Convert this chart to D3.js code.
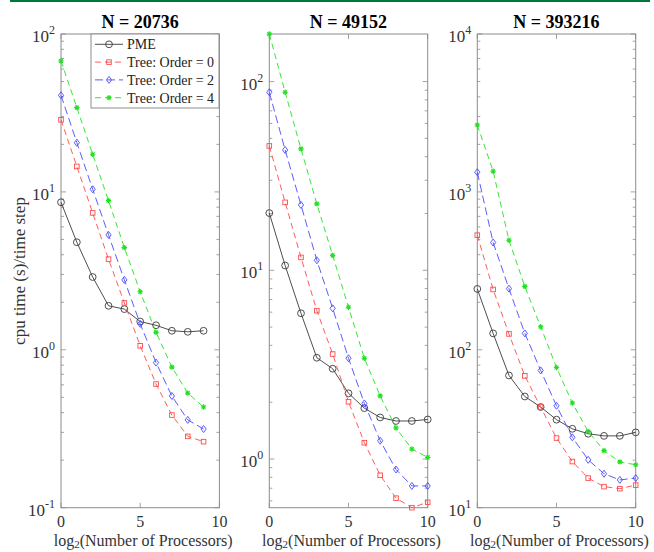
<!DOCTYPE html>
<html><head><meta charset="utf-8">
<script src="https://cdn.jsdelivr.net/npm/d3@7"></script>
<style>body{margin:0;background:#fff}svg{display:block}text{font-family:"Liberation Serif","Times New Roman",serif}</style>
</head><body><svg id="c" width="654" height="552"></svg>
<script>
const titles = ["N = 20736", "N = 49152", "N = 393216"];
const seriesNames = ["PME", "Tree: Order = 0", "Tree: Order = 2", "Tree: Order = 4"];
const procsA = [0,1,2,3,4,5,6,7,8,9];
const procsB = [0,1,2,3,4,5,6,7,8,9,10];
const xTicks = [0,5,10];

const pme1   = [8.6,4.8,2.89,1.90,1.81,1.51,1.43,1.32,1.30,1.32];
const tree0_1 = [28.6,14.5,7.36,3.75,1.98,1.06,0.607,0.386,0.283,0.262];
const tree2_1 = [40.9,20.5,10.4,5.34,2.77,1.46,0.83,0.51,0.36,0.315];
const tree4_1 = [67.5,34.2,17.3,8.8,4.44,2.33,1.29,0.777,0.532,0.434];

const pme2   = [20.1,10.6,5.92,3.44,3.01,2.23,1.86,1.66,1.59,1.59,1.62];
const tree0_2 = [45.6,22.9,11.7,6.11,3.6,2.01,1.22,0.82,0.62,0.552,0.59];
const tree2_2 = [87.8,43.4,22.2,11.3,6.29,3.42,1.97,1.25,0.88,0.72,0.72];
const tree4_2 = [178.7,87.8,44,22.5,12.0,6.37,3.42,2.16,1.46,1.13,1.02];

const pme3   = [243,127,68.8,50.6,43.4,36.1,31.6,29.4,28.5,28.5,30];
const tree0_3 = [532,241,126,68.4,43.4,27.6,19.6,15.4,13.6,13.2,13.9];
const tree2_3 = [1333,478,244,127,74,44.2,27.9,20.1,16.4,15.0,15.4];
const tree4_3 = [2655,1352,494,252,140,77.3,46,30.4,23,19.5,18.7];

const yDomains = [[0.1,100],[0.552,178.7],[10,10000]];
const yDecades = [[-1,0,1,2],[0,1,2],[1,2,3,4]];

const panels = [
  {x: procsA, s: [pme1,tree0_1,tree2_1,tree4_1]},
  {x: procsB, s: [pme2,tree0_2,tree2_2,tree4_2]},
  {x: procsB, s: [pme3,tree0_3,tree2_3,tree4_3]}
];

const colors = ["#3a3a3a","#ff4a4a","#4a4aff","#22e022"];
const dashes = [null,"6,4","8,4","6,4"];
const markers = ["circle","square","diamond","star"];

const svg = d3.select("#c");
svg.append("line").attr("x1",10).attr("x2",650).attr("y1",1).attr("y2",1)
  .attr("stroke","#00773a").attr("stroke-width",2);

const lefts = [61, 269.3, 477.3], W = 158.4, plotTop = 34, plotBot = 507.7;
const axisCol = "#8c8c8c", labCol = "#333";

function drawMarker(g, type, cx, cy, col){
  if(type==="circle") g.append("circle").attr("cx",cx).attr("cy",cy).attr("r",3.4).attr("fill","none").attr("stroke",col).attr("stroke-width",0.9);
  else if(type==="square") g.append("rect").attr("x",cx-2.3).attr("y",cy-2.3).attr("width",4.6).attr("height",4.6).attr("fill","none").attr("stroke",col).attr("stroke-width",0.9);
  else if(type==="diamond") g.append("path").attr("d",`M${cx},${cy-3.5}L${cx+2.6},${cy}L${cx},${cy+3.5}L${cx-2.6},${cy}Z`).attr("fill","none").attr("stroke",col).attr("stroke-width",0.9);
  else {
    const r=2.7; let d="";
    for(let k=0;k<4;k++){const a=k*Math.PI/4;d+=`M${cx-r*Math.cos(a)},${cy-r*Math.sin(a)}L${cx+r*Math.cos(a)},${cy+r*Math.sin(a)}`;}
    g.append("path").attr("d",d).attr("stroke",col).attr("stroke-width",1.1);
  }
}

panels.forEach((p, pi) => {
  const x0 = lefts[pi], x1 = x0 + W;
  const xs = d3.scaleLinear().domain([0,10]).range([x0,x1]);
  const ys = d3.scaleLog().domain(yDomains[pi]).range([plotBot,plotTop]);
  const g = svg.append("g");

  const [d0,d1] = yDomains[pi];
  for(let e=Math.floor(Math.log10(d0)); e<=Math.ceil(Math.log10(d1)); e++){
    for(let m=1;m<10;m++){
      const v = m*Math.pow(10,e);
      if(v < d0*0.999 || v > d1*1.001) continue;
      const L = m===1 ? 5 : 3;
      const y = ys(v);
      g.append("line").attr("x1",x0).attr("x2",x0+L).attr("y1",y).attr("y2",y).attr("stroke",axisCol).attr("stroke-width",0.8);
      g.append("line").attr("x1",x1).attr("x2",x1-L).attr("y1",y).attr("y2",y).attr("stroke",axisCol).attr("stroke-width",0.8);
    }
  }
  xTicks.forEach(t => {
    const x = xs(t);
    g.append("line").attr("x1",x).attr("x2",x).attr("y1",plotBot).attr("y2",plotBot-5).attr("stroke",axisCol).attr("stroke-width",0.8);
    g.append("line").attr("x1",x).attr("x2",x).attr("y1",plotTop).attr("y2",plotTop+5).attr("stroke",axisCol).attr("stroke-width",0.8);
    g.append("text").attr("x",x).attr("y",plotBot+19.5).attr("text-anchor","middle").attr("font-size",16).attr("fill",labCol).text(t);
  });
  yDecades[pi].forEach(e => {
    const y = ys(Math.pow(10,e));
    const t = g.append("text").attr("x",x0-6).attr("y",y+8).attr("text-anchor","end").attr("font-size",17).attr("fill",labCol);
    t.append("tspan").text("10");
    t.append("tspan").attr("dy",-8).attr("font-size",12).text(e);
  });
  g.append("rect").attr("x",x0).attr("y",plotTop).attr("width",W).attr("height",plotBot-plotTop).attr("fill","none").attr("stroke",axisCol).attr("stroke-width",1);

  g.append("text").attr("x",(x0+x1)/2).attr("y",28).attr("text-anchor","middle").attr("font-size",18).attr("font-weight","bold").attr("fill","#000").text(titles[pi]);
  const xl = g.append("text").attr("x",(x0+x1)/2+3).attr("y",546).attr("text-anchor","middle").attr("font-size",16).attr("fill",labCol);
  xl.append("tspan").text("log");
  xl.append("tspan").attr("dy",2).attr("font-size",11).text("2");
  xl.append("tspan").attr("dy",-2).text("(Number of Processors)");

  p.s.forEach((vals, si) => {
    const pts = vals.map((v,i)=>[xs(p.x[i]), ys(v)]);
    g.append("path").attr("d", d3.line()(pts)).attr("fill","none").attr("stroke",colors[si]).attr("stroke-width",0.9)
      .attr("stroke-dasharray", dashes[si]);
    pts.forEach(([cx,cy]) => drawMarker(g, markers[si], cx, cy, colors[si]));
  });
});

svg.append("text").attr("transform","translate(25,271) rotate(-90)").attr("text-anchor","middle")
  .attr("font-size",17).attr("fill",labCol).text("cpu time (s)/time step");

const lg = svg.append("g");
lg.append("rect").attr("x",91).attr("y",34).attr("width",128).attr("height",74).attr("fill","#fff").attr("stroke",axisCol).attr("stroke-width",1);
seriesNames.forEach((n, si) => {
  const y = 44.3 + si*17.8;
  lg.append("line").attr("x1",95).attr("x2",123).attr("y1",y).attr("y2",y).attr("stroke",colors[si]).attr("stroke-width",0.9).attr("stroke-dasharray",dashes[si]);
  drawMarker(lg, markers[si], 109, y, colors[si]);
  lg.append("text").attr("x",127).attr("y",y+5).attr("font-size",14).attr("fill","#222").text(n);
});
</script></body></html>
